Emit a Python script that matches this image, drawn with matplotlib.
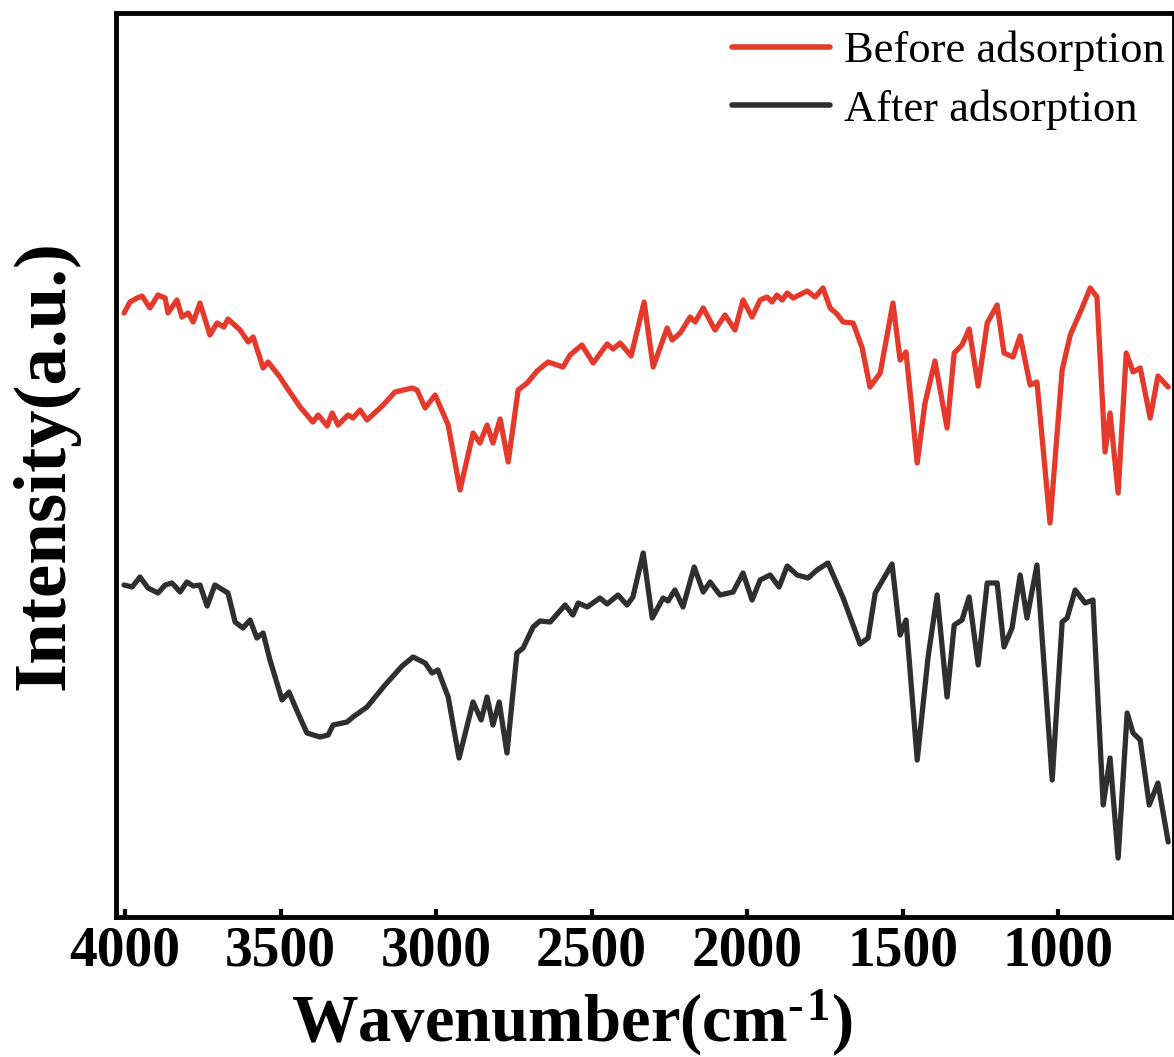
import numpy as np
import matplotlib.pyplot as plt

# FTIR spectra (wavenumber in cm-1, intensity in a.u.)
before_wn = [4003, 3984, 3961, 3945, 3920, 3894, 3871, 3862, 3833, 3817, 3797, 3781, 3759, 3727,
             3704, 3682, 3669, 3630, 3604, 3588, 3556, 3540, 3502, 3479, 3437, 3396, 3379, 3350,
             3334, 3315, 3283, 3267, 3244, 3222, 3170, 3132, 3077, 3061, 3035, 3003, 2961, 2923,
             2881, 2859, 2836, 2817, 2794, 2768, 2736, 2707, 2675, 2640, 2592, 2569, 2531, 2495,
             2450, 2431, 2408, 2373, 2331, 2302, 2257, 2241, 2215, 2183, 2167, 2141, 2103, 2071,
             2039, 2013, 1984, 1958, 1936, 1920, 1904, 1887, 1871, 1852, 1807, 1781, 1756, 1733,
             1711, 1691, 1659, 1630, 1605, 1572, 1531, 1508, 1489, 1469, 1453, 1428, 1396, 1357,
             1334, 1309, 1286, 1257, 1228, 1196, 1174, 1145, 1122, 1090, 1068, 1026, 987, 961,
             923, 897, 875, 849, 833, 807, 781, 759, 736, 704, 679, 646]
before_int = [604, 615, 619, 621, 609, 622, 619, 604, 617, 600, 604, 595, 614, 582,
              594, 590, 598, 587, 575, 580, 549, 555, 540, 529, 510, 495, 502, 491,
              504, 492, 502, 499, 507, 497, 512, 525, 529, 527, 509, 522, 492, 427,
              484, 474, 492, 474, 498, 455, 527, 534, 546, 555, 550, 562, 572, 554,
              573, 568, 574, 561, 615, 550, 589, 577, 584, 600, 595, 609, 587, 602,
              587, 617, 600, 617, 620, 615, 622, 617, 624, 619, 626, 620, 629, 609,
              603, 595, 594, 569, 530, 544, 614, 557, 565, 504, 454, 514, 556, 489,
              564, 572, 588, 531, 594, 612, 564, 560, 581, 532, 535, 394, 547, 582,
              609, 629, 620, 465, 504, 424, 564, 545, 549, 499, 541, 530]

after_wn = [4003, 3977, 3952, 3926, 3894, 3871, 3849, 3823, 3801, 3781, 3759, 3736, 3711, 3669,
            3646, 3621, 3598, 3576, 3556, 3534, 3495, 3473, 3444, 3415, 3373, 3347, 3331, 3286,
            3267, 3222, 3164, 3109, 3074, 3035, 3013, 2994, 2961, 2926, 2881, 2855, 2836, 2817,
            2797, 2772, 2740, 2720, 2688, 2666, 2633, 2585, 2560, 2543, 2514, 2473, 2450, 2415,
            2386, 2367, 2334, 2305, 2270, 2254, 2232, 2206, 2170, 2141, 2119, 2087, 2045, 2013,
            1984, 1958, 1926, 1897, 1871, 1839, 1804, 1775, 1740, 1691, 1637, 1611, 1588, 1534,
            1508, 1489, 1453, 1418, 1389, 1357, 1334, 1309, 1286, 1257, 1228, 1196, 1174, 1148,
            1122, 1100, 1068, 1019, 987, 971, 945, 913, 888, 855, 833, 807, 778, 759,
            736, 707, 679, 646]
after_int = [332, 330, 340, 329, 324, 332, 334, 325, 335, 331, 332, 311, 332, 324,
             295, 289, 297, 279, 284, 257, 217, 225, 204, 184, 180, 182, 192, 195,
             200, 210, 232, 251, 260, 254, 244, 247, 220, 159, 215, 197, 220, 192,
             215, 164, 264, 269, 290, 296, 295, 312, 302, 314, 310, 319, 313, 322,
             312, 320, 364, 299, 319, 316, 327, 310, 350, 325, 335, 322, 325, 344,
             317, 337, 342, 330, 351, 342, 339, 347, 354, 319, 273, 279, 324, 353,
             282, 297, 157, 260, 322, 220, 292, 297, 320, 252, 334, 334, 270, 289,
             342, 299, 352, 137, 295, 299, 327, 314, 317, 112, 159, 59, 204, 184,
             177, 112, 134, 75]

series_labels = ["Before adsorption", "After adsorption"]
x_ticks = [4000, 3500, 3000, 2500, 2000, 1500, 1000]

plt.rcParams['font.family'] = ['Liberation Serif', 'DejaVu Serif']
plt.rcParams['mathtext.fontset'] = 'custom'
plt.rcParams['mathtext.rm'] = 'Liberation Serif:bold'
plt.rcParams['mathtext.bf'] = 'Liberation Serif:bold'
plt.rcParams['mathtext.default'] = 'regular'

fig = plt.figure(figsize=(11.74, 10.57), dpi=100)
ax = fig.add_axes([116 / 1174, 140 / 1057, (1173.5 - 116) / 1174, (1044 - 140) / 1057])

ax.plot(before_wn, before_int, color='#e4392b', lw=3.8, label=series_labels[0],
        solid_joinstyle='round', solid_capstyle='round')
ax.plot(after_wn, after_int, color='#2f2f2f', lw=3.8, label=series_labels[1],
        solid_joinstyle='round', solid_capstyle='round')

ax.set_xlim(4029, 629)
ax.set_ylim(0, 904)
ax.set_xticks(x_ticks)
ax.set_yticks([])
ax.tick_params(axis='x', direction='in', length=6, width=3, pad=6, labelsize=40)
for lab in ax.get_xticklabels():
    lab.set_fontweight('bold')
for sp in ax.spines.values():
    sp.set_linewidth(3.5)

ax.set_xlabel('Wavenumber(cm$^{\u2010\u200a1}$)', fontsize=48, fontweight='bold', va='baseline')
ax.xaxis.set_label_coords(0.431, -0.1372)
ax.set_ylabel('Intensity(a.u.)', fontsize=54, fontweight='bold', labelpad=26)

leg = ax.legend(loc='upper right', frameon=False, fontsize=32, handlelength=2.2,
                handletextpad=0.3, labelspacing=0.4, borderaxespad=0.0,
                bbox_to_anchor=(1.008, 1.0))
for line in leg.get_lines():
    line.set_linewidth(4)

fig.savefig('out.png', dpi=100)
